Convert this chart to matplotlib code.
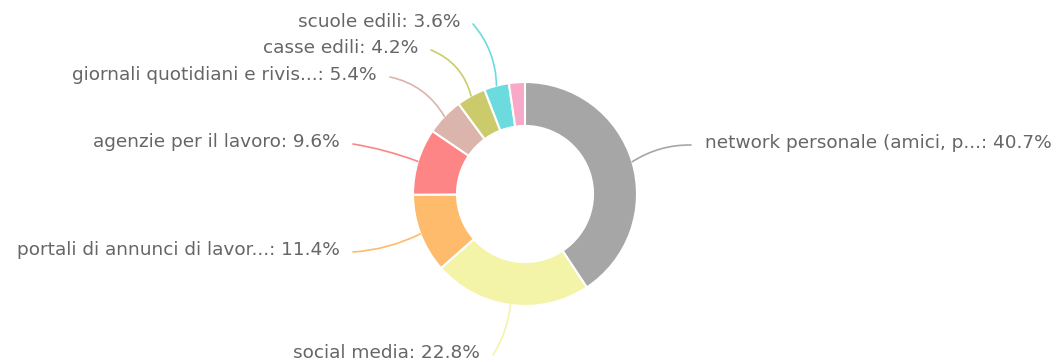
import numpy as np
import matplotlib
matplotlib.use('Agg')
import matplotlib.pyplot as plt

labels = ['network personale (amici, p...', 'social media', 'portali di annunci di lavor...',
          'agenzie per il lavoro', 'giornali quotidiani e rivis...', 'casse edili',
          'scuole edili', 'altro']
values = [40.7, 22.8, 11.4, 9.6, 5.4, 4.2, 3.6, 2.3]
colors = ['#a6a6a6', '#f4f4a9', '#fdbb6b', '#fe8585', '#dbb4ab', '#cccb6c', '#6cdbde', '#f9a9c8']
show_label = [True, True, True, True, True, True, True, False]

# label text anchors in pixel coords (x, y from top), alignment, connector bend
label_pos = [(705, 143, 'left', 0.15), (480, 353, 'right', 0.12), (340, 250, 'right', 0.1),
             (340, 142, 'right', -0.05), (377, 75, 'right', -0.22), (418, 48, 'right', -0.25),
             (460, 22, 'right', -0.18), None]

W, H = 1057, 362
fig = plt.figure(figsize=(W / 100, H / 100), dpi=100)
ax = fig.add_axes([0, 0, 1, 1])

cx, cy, r = 525, H - 194, 112
wedges, _ = ax.pie(values, colors=colors, center=(cx, cy), radius=r, startangle=90,
                   counterclock=False, wedgeprops=dict(width=44, edgecolor='white', linewidth=1.5))

for w, lab, v, show, pos in zip(wedges, labels, values, show_label, label_pos):
    if not show:
        continue
    ang = np.deg2rad((w.theta1 + w.theta2) / 2)
    ex, ey = cx + r * np.cos(ang), cy + r * np.sin(ang)
    tx, ty, ha, rad = pos
    ty = H - ty
    gap = 13 if ha == 'right' else -14
    ax.annotate('', xy=(ex, ey), xytext=(tx + gap, ty - 2),
                arrowprops=dict(arrowstyle='-', color=w.get_facecolor(), lw=1.2,
                                shrinkA=0, shrinkB=0, connectionstyle='arc3,rad=%s' % rad))
    ax.text(tx, ty, '%s: %.1f%%' % (lab, v), ha=ha, va='center', fontsize=13.3,
            color='#666666', family='DejaVu Sans')

ax.set_xlim(0, W)
ax.set_ylim(0, H)
ax.set_aspect('auto')
ax.axis('off')
fig.savefig('out.png', dpi=100, facecolor='white')
